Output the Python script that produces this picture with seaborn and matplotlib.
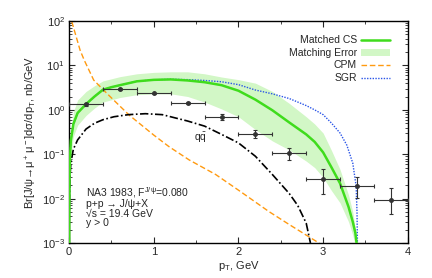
import numpy as np
import matplotlib
matplotlib.use('Agg')
import matplotlib.pyplot as plt
import seaborn as sns
from matplotlib.patches import Patch
from matplotlib.lines import Line2D
from matplotlib.ticker import MultipleLocator, LogLocator, NullFormatter

# data
x_cs = [0.001, 0.005, 0.01, 0.02, 0.05, 0.1, 0.2, 0.3, 0.4, 0.5, 0.6, 0.8, 1.0, 1.2, 1.4,
        1.6, 1.8, 2.0, 2.2, 2.4, 2.6, 2.8, 2.9, 3.0, 3.1, 3.2, 3.3, 3.35, 3.38, 3.395]
y_cs = [0.001, 0.03, 0.08, 0.2, 0.48, 0.85, 1.35, 2.0, 2.85, 3.25, 3.6, 4.4, 4.75, 4.85, 4.6,
        4.2, 3.6, 2.7, 1.7, 0.98, 0.52, 0.28, 0.19, 0.11, 0.05, 0.022, 0.0065, 0.003, 0.0017, 0.001]

x_sgr = [0.001, 0.005, 0.01, 0.02, 0.05, 0.1, 0.2, 0.3, 0.4, 0.5, 0.6, 0.8, 1.0, 1.2, 1.4,
         1.6, 1.8, 2.0, 2.2, 2.4, 2.6, 2.8, 2.9, 3.0, 3.1, 3.2, 3.28, 3.35, 3.39, 3.4, 3.405]
y_sgr = [0.001, 0.03, 0.08, 0.2, 0.48, 0.85, 1.35, 2.0, 2.85, 3.25, 3.6, 4.4, 4.75, 4.9, 4.8,
         4.6, 4.3, 3.7, 2.8, 2.3, 1.8, 1.25, 1.0, 0.78, 0.5, 0.3, 0.16, 0.063, 0.019, 0.005, 0.001]

x_band = [0.001, 0.01, 0.02, 0.05, 0.1, 0.2, 0.3, 0.4, 0.6, 0.8, 1.0, 1.2, 1.4, 1.6, 1.8,
          2.0, 2.2, 2.4, 2.6, 2.8, 2.9, 3.0, 3.1, 3.2, 3.3, 3.35, 3.4]
band_lo = [0.0008, 0.03, 0.09, 0.25, 0.45, 0.75, 1.1, 1.5, 1.9, 2.2, 2.3, 2.3, 2.0, 1.5, 1.05,
           0.7, 0.36, 0.2, 0.125, 0.07, 0.05, 0.03, 0.015, 0.008, 0.003, 0.0015, 0.0006]
band_hi = [0.002, 0.12, 0.3, 0.9, 1.66, 2.6, 3.5, 4.5, 5.6, 6.5, 7.0, 7.2, 7.2, 6.5, 5.5,
           4.8, 4.0, 2.6, 1.4, 0.7, 0.48, 0.3, 0.12, 0.045, 0.012, 0.005, 0.0012]

x_cpm = [0.02, 0.03, 0.13, 0.18, 0.29, 0.39, 0.5, 0.71, 1.0, 1.18, 1.42, 1.73, 2.0, 2.36, 2.6, 2.95, 3.0]
y_cpm = [150, 100, 22, 13, 4.7, 3.0, 1.86, 0.76, 0.27, 0.148, 0.074, 0.035, 0.0155, 0.0051, 0.0026, 0.001, 0.0008]

x_qq = [0.002, 0.01, 0.02, 0.05, 0.1, 0.2, 0.3, 0.4, 0.53, 0.7, 0.9, 1.1, 1.4, 1.6, 1.8,
        2.0, 2.2, 2.4, 2.6, 2.7, 2.8, 2.85]
y_qq = [0.008, 0.03, 0.063, 0.13, 0.21, 0.37, 0.5, 0.6, 0.7, 0.78, 0.82, 0.78, 0.56, 0.43, 0.28,
        0.18, 0.09, 0.035, 0.013, 0.007, 0.0028, 0.001]

pt = [0.2, 0.6, 1.0, 1.4, 1.8, 2.2, 2.6, 3.0, 3.4, 3.8]
sig = [1.33, 2.94, 2.35, 1.40, 0.70, 0.285, 0.108, 0.028, 0.0195, 0.0095]
sig_lo = [1.25, 2.8, 2.25, 1.33, 0.60, 0.23, 0.076, 0.013, 0.0104, 0.0046]
sig_hi = [1.42, 3.1, 2.45, 1.47, 0.82, 0.35, 0.14, 0.046, 0.031, 0.017]

sns.set_style('ticks')
plt.rcParams['font.family'] = ['Liberation Sans', 'DejaVu Sans']
plt.rcParams['mathtext.default'] = 'regular'
plt.rcParams['font.size'] = 8

fig = plt.figure(figsize=(4.32, 2.78), dpi=100)
ax = fig.add_axes([0.160, 0.126, 0.784, 0.798])

c_green = '#3fdc1c'
c_band = '#d2f7c6'
c_orange = '#ff9a10'
c_blue = '#2a55e8'

ax.fill_between(x_band, band_lo, band_hi, color=c_band, lw=0, zorder=1)
sns.lineplot(x=x_cpm, y=y_cpm, ax=ax, color=c_orange, lw=1.0, linestyle=(0, (4, 2)), zorder=2)
sns.lineplot(x=x_qq, y=y_qq, ax=ax, color='black', lw=1.2, linestyle=(0, (5, 1.5, 1, 1.5)), zorder=2)
sns.lineplot(x=x_sgr, y=y_sgr, ax=ax, color=c_blue, lw=1.0, linestyle=(0, (1, 1)), zorder=3)
sns.lineplot(x=x_cs, y=y_cs, ax=ax, color=c_green, lw=1.8, zorder=4)

yerr = [np.array(sig) - np.array(sig_lo), np.array(sig_hi) - np.array(sig)]
ax.errorbar(pt, sig, xerr=0.2, yerr=yerr, fmt='o', color='#333333', ms=2.5,
            elinewidth=0.8, capsize=1.5, capthick=0.8, zorder=5)

ax.set_yscale('log')
ax.set_xlim(0, 4)
ax.set_ylim(1e-3, 1e2)
ax.xaxis.set_major_locator(MultipleLocator(1))
ax.xaxis.set_minor_locator(MultipleLocator(0.5))
ax.yaxis.set_major_locator(LogLocator(base=10, numticks=10))
ax.yaxis.set_minor_locator(LogLocator(base=10, subs=np.arange(2, 10), numticks=10))
ax.yaxis.set_minor_formatter(NullFormatter())
ax.tick_params(which='both', direction='in', top=True, right=True, labelsize=8, pad=3)
ax.tick_params(which='major', length=4, width=0.8)
ax.tick_params(which='minor', length=2, width=0.6)
for s in ax.spines.values():
    s.set_linewidth(1.0)
    s.set_color('black')

ax.set_xlabel('p$_T$, GeV', fontsize=8, labelpad=1)
ax.set_ylabel('Br[J/ψ→μ$^+$μ$^-$]dσ/dp$_T$, nb/GeV', fontsize=8, labelpad=2)

ax.text(1.55, 0.23, r'$q\bar{q}$', fontsize=7.5, ha='center', va='center')

info = ['NA3 1983, F$^{J/ψ}$=0.080', 'p+p → J/ψ+X', '√s = 19.4 GeV', 'y > 0']
ax.text(0.049, 0.262, '\n'.join(info), transform=ax.transAxes, fontsize=7.5,
        ha='left', va='top', linespacing=0.95)

handles = [Line2D([], [], color=c_green, lw=1.8),
           Patch(facecolor=c_band, edgecolor='none'),
           Line2D([], [], color=c_orange, lw=1.0, linestyle=(0, (4, 2))),
           Line2D([], [], color=c_blue, lw=1.0, linestyle=(0, (1, 1)))]
labels = ['Matched CS', 'Matching Error', 'CPM', 'SGR']
ax.legend(handles, labels, loc='upper right', bbox_to_anchor=(0.96, 0.955), frameon=False,
          markerfirst=False, fontsize=7.5, handlelength=2.8, handleheight=0.6,
          labelspacing=0.25, handletextpad=0.4, borderaxespad=0)

fig.savefig('out.png', dpi=100)
